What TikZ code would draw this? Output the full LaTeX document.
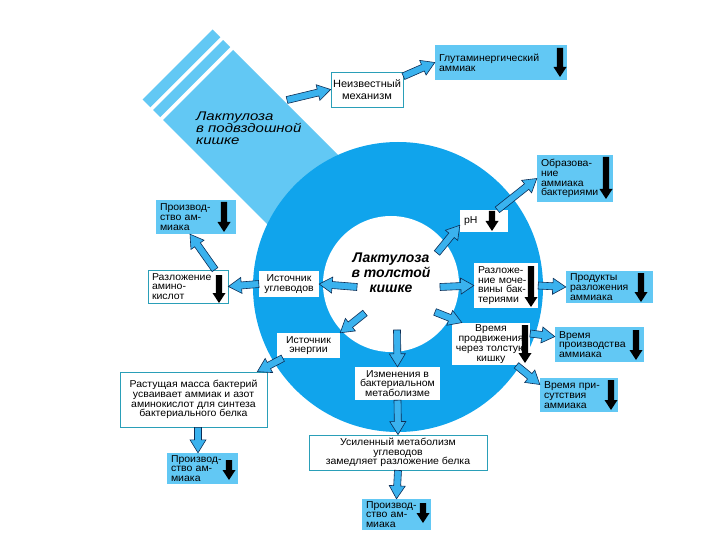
\documentclass[tikz,border=0pt]{standalone}
\usepackage{fontspec}
\setmainfont{Liberation Sans}
\newfontfamily\boxfont[FakeStretch=1.05]{Liberation Sans}
\newfontfamily\bigfont[FakeStretch=1.2]{Liberation Sans}
\usetikzlibrary{calc}
\definecolor{ringblue}{HTML}{10A4EC}
\definecolor{bandblue}{HTML}{62C8F4}
\definecolor{boxblue}{HTML}{62C8F4}
\definecolor{arrfill}{HTML}{3AB2EE}
\definecolor{arrline}{HTML}{0C2D55}
\definecolor{tealline}{HTML}{2A9FB8}
\tikzset{
 every node/.style={font=\boxfont\fontsize{10}{9.8}\selectfont, inner sep=2pt, text=black},
 bluebox/.style={fill=boxblue, align=left, inner xsep=4pt},
 whitebox/.style={fill=white, align=center},
 leftwhite/.style={fill=white, align=left, inner xsep=4pt},
 framebox/.style={fill=white, draw=tealline, line width=0.8pt, align=center},
 fatarr/.style={fill=arrfill, draw=arrline, line width=0.6pt, line join=miter},
}
\newcommand\fatarrow[2]{%
  \coordinate (fatC) at ($(#2)!13pt!(#1)$);
  \filldraw[fatarr] ($(#1)!3.5pt!90:(#2)$) -- ($(fatC)!3.5pt!90:(#2)$) -- ($(fatC)!8pt!90:(#2)$) -- (#2) -- ($(fatC)!8pt!-90:(#2)$) -- ($(fatC)!3.5pt!-90:(#2)$) -- ($(#1)!3.5pt!-90:(#2)$) -- cycle;}
\newcommand\downarr[3]{\fill[black] ({#1-3.2},#2) -- ({#1-3.2},{#3-10}) -- ({#1-6.5},{#3-10}) -- (#1,#3) -- ({#1+6.5},{#3-10}) -- ({#1+3.2},{#3-10}) -- ({#1+3.2},#2) -- cycle;}
\begin{document}
\begin{tikzpicture}[x=1pt,y=-1pt]
\useasboundingbox[fill=white] (0,0) rectangle (720,540);
% band (ileum)
\fill[bandblue] (233,50) -- (388.6,205.6) -- (318.6,275.6) -- (163,120) -- cycle;
\fill[bandblue] (230.2,47.2) -- (223.1,40.1) -- (153.1,110.1) -- (160.2,117.2) -- cycle;
\fill[bandblue] (220.3,37.3) -- (212.5,29.5) -- (142.5,99.5) -- (150.3,107.3) -- cycle;
% ring (colon)
\fill[ringblue] (398,287) circle[radius=145];
\fill[white] (391,284) circle[radius=68];
\node[font=\bigfont\itshape\fontsize{12.5}{12}\selectfont, align=left, anchor=north west] (ileum) at (194,110) {Лактулоза\\в подвздошной\\кишке};
\node[font=\rmfamily\bfseries\itshape\fontsize{14}{15}\selectfont, align=center] (colon) at (391,273) {Лактулоза\\в толстой\\кишке};
% boxes
\node[bluebox, minimum width=132pt, minimum height=35pt, text width=124pt] (glut) at (501,62.5) {Глутаминергический\\аммиак};
\downarr{560}{48}{77}
\node[framebox, font=\boxfont\fontsize{10.5}{11.5}\selectfont, minimum width=68pt, minimum height=35pt] (unk) at (367,89.5) {Неизвестный\\механизм};
\node[bluebox, minimum width=76pt, minimum height=47pt, text width=68pt] (obr) at (575,178.5) {Образова-\\ние\\аммиака\\бактериями};
\downarr{606}{157}{199}
\node[leftwhite, minimum width=48pt, minimum height=22pt, text width=40pt] (ph) at (484,221) {pH};
\downarr{492}{211}{231}
\node[leftwhite, minimum width=64pt, minimum height=45pt, text width=56pt] (moch) at (506,285.5) {Разложе-\\ние моче-\\вины бак-\\териями};
\downarr{531}{266}{307}
\node[bluebox, minimum width=87pt, minimum height=32pt, text width=79pt] (prod) at (609.5,287) {Продукты\\разложения\\аммиака};
\downarr{641}{273}{302}
\node[whitebox, minimum width=78pt, minimum height=42pt] (vr1) at (491,344) {Время\\продвижения\\через толстую\\кишку};
\downarr{525}{325}{363}
\node[bluebox, minimum width=89pt, minimum height=35pt, text width=81pt] (vr2) at (599.5,344.5) {Время\\производства\\аммиака};
\downarr{636}{330}{360}
\node[bluebox, minimum width=78pt, minimum height=34pt, text width=70pt] (vr3) at (579,395) {Время при-\\сутствия\\аммиака};
\downarr{611}{380}{410}
\node[bluebox, minimum width=80pt, minimum height=34pt, text width=72pt] (p1) at (196,217) {Производ-\\ство ам-\\миака};
\downarr{224}{202}{232}
\node[framebox, align=left, inner xsep=4pt, minimum width=80pt, minimum height=33pt, text width=72pt] (amino) at (188,286.5) {Разложение\\амино-\\кислот};
\downarr{219}{275}{303}
\node[whitebox, minimum width=60pt, minimum height=26pt] (carb) at (289,284) {Источник\\углеводов};
\node[whitebox, minimum width=63pt, minimum height=25pt] (energ) at (308.5,345.5) {Источник\\энергии};
\node[framebox, minimum width=147pt, minimum height=55pt] (mass) at (193.5,399.5) {Растущая масса бактерий\\усваивает аммиак и азот\\аминокислот для синтеза\\бактериального белка};
\node[bluebox, minimum width=71pt, minimum height=31pt, text width=63pt] (p2) at (202.5,468.5) {Производ-\\ство ам-\\миака};
\downarr{229}{460}{480}
\node[whitebox, minimum width=85pt, minimum height=33pt] (izm) at (397.5,383.5) {Изменения в\\бактериальном\\метаболизме};
\node[framebox, minimum width=178pt, minimum height=35pt] (usil) at (398,452.5) {Усиленный метаболизм\\углеводов\\замедляет разложение белка};
\node[bluebox, minimum width=69pt, minimum height=31pt, text width=61pt] (p3) at (396.5,514.5) {Производ-\\ство ам-\\миака};
\downarr{423}{503}{523}
% arrow end points
\coordinate (bandA) at (287,100);
\coordinate (cPH) at (437,253);
\coordinate (cMO) at (440,287);
\coordinate (cVR) at (435,312);
\coordinate (cIZ) at (397,330);
\coordinate (cEN) at (365,313);
\coordinate (cCA) at (357,287);
\coordinate (vr1in) at ([xshift=10pt]vr1.north west);
\coordinate (enOut) at ([xshift=6pt]energ.south west);
\coordinate (massIn) at ([xshift=-10pt]mass.north east);
\coordinate (massOut) at ([xshift=4.5pt]mass.south);
\coordinate (p2In) at ([xshift=-4.5pt]p2.north);
\coordinate (aminoOut) at ([xshift=27pt]amino.north);
\coordinate (p1In) at ([xshift=-6pt]p1.south);
% arrows
\fatarrow{bandA}{unk.west}
\fatarrow{unk.20}{glut.west}
\fatarrow{cPH}{ph.190}
\fatarrow{ph.40}{obr.west}
\fatarrow{cMO}{moch.west}
\fatarrow{moch.east}{prod.west}
\fatarrow{cVR}{vr1in}
\fatarrow{vr1.15}{vr2.170}
\fatarrow{vr1.-40}{vr3.165}
\fatarrow{cIZ}{izm.north}
\fatarrow{izm.south}{usil.north}
\fatarrow{usil.south}{p3.north}
\fatarrow{cEN}{energ.north east}
\fatarrow{enOut}{massIn}
\fatarrow{massOut}{p2In}
\fatarrow{cCA}{carb.east}
\fatarrow{carb.west}{amino.east}
\fatarrow{aminoOut}{p1In}
\end{tikzpicture}
\end{document}
